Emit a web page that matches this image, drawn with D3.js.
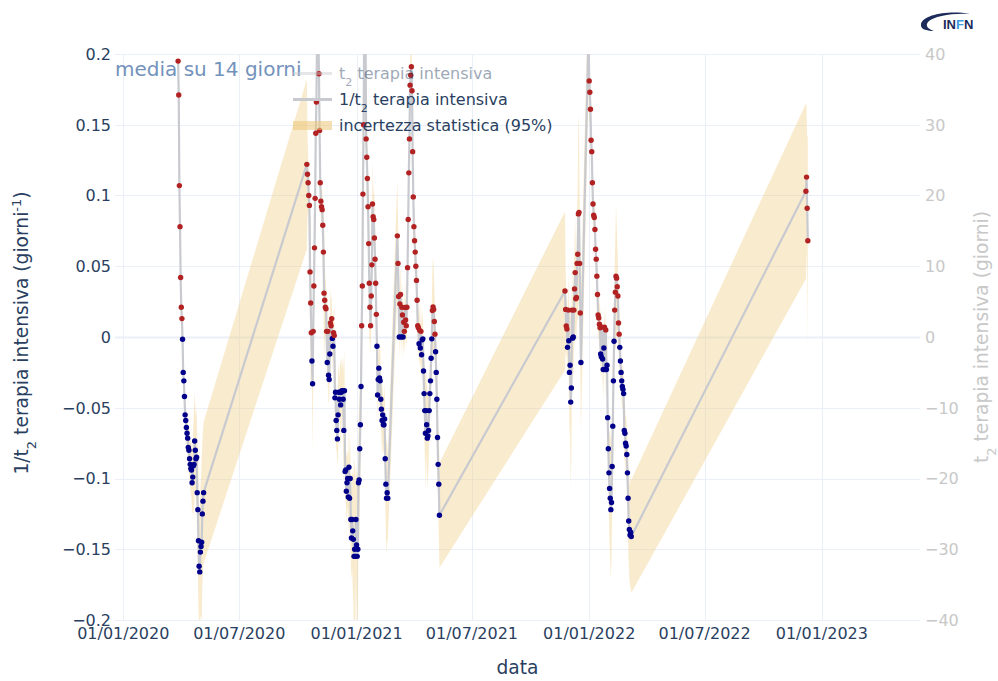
<!DOCTYPE html>
<html><head><meta charset="utf-8">
<script src="https://cdn.jsdelivr.net/npm/d3@7"></script>
<style>
body{margin:0;background:#fff}
svg{display:block;font-family:"DejaVu Sans",sans-serif}
</style>
</head><body>
<svg id="c" width="998" height="681"></svg>
<script>
// ---------- DATA ----------
const xTickDates = ["2020-01-01","2020-07-01","2021-01-01","2021-07-01","2022-01-01","2022-07-01","2023-01-01"];
const yTicks = [-0.2,-0.15,-0.1,-0.05,0,0.05,0.1,0.15,0.2];
const y2Ticks = [-40,-30,-20,-10,0,10,20,30,40];

const seg1Start = "2020-03-27";
const seg1Values = [0.195,0.171,0.107,0.078,0.042,0.021,0.013,-0.0016,-0.025,-0.031,
 -0.042,-0.055,-0.059,-0.064,-0.068,-0.0715,-0.078,-0.080,-0.086,-0.090,
 -0.093,-0.094,-0.103,-0.099,-0.091,-0.090,-0.0735,-0.080,-0.086,-0.085,
 -0.110,-0.122,-0.144,-0.162,-0.166,-0.152,-0.148,-0.145,-0.125,-0.116,-0.110];
const seg1Errors = [0.004,0.004,0.005,0.005,0.006,0.006,0.007,0.008,0.008,0.009,
 0.01,0.01,0.011,0.012,0.012,0.013,0.014,0.015,0.016,0.017,
 0.018,0.02,0.022,0.025,0.03,0.04,0.035,0.03,0.03,0.035,
 0.04,0.045,0.05,0.04,0.04,0.045,0.05,0.06,0.05,0.05,0.05];

const seg2Start = "2020-10-15";
const seg2Values = [0.122,0.115,0.109,0.100,0.093,0.046,0.024,0.003,-0.017,-0.033,
 0.004,0.036,0.063,0.098,0.144,0.166,0.21,0.24,0.22,0.186,
 0.146,0.109,0.096,0.092,0.090,0.079,0.060,0.031,0.026,0.021,
 0.020,0.004,-0.018,0.004,-0.027,-0.030,-0.012,0.010,0.008,0.013,
 -0.001,-0.0065,0.003,0.001,-0.043,-0.039,-0.059,-0.066,-0.072,-0.055,
 -0.039,-0.044,-0.039,-0.048,-0.039,-0.038,-0.038,-0.044,-0.066,-0.038,
 -0.095,-0.094,-0.109,-0.103,-0.100,-0.113,-0.092,-0.114,-0.100,-0.129,
 -0.142,-0.129,-0.137,-0.143,-0.155,-0.150,-0.155,-0.129,-0.147,-0.155,
 -0.150,-0.103,-0.101,-0.079,-0.062,-0.035,0.008,0.036,0.101,0.150,
 0.215,0.24,0.22,0.14,0.127,0.112,0.092,0.066,0.038,0.021,
 0.008,0.029,0.051,0.094,0.085,0.083,0.070,0.055,0.038,0.016,
 -0.0065,-0.041,-0.030,-0.022,-0.029,-0.031,-0.044,-0.051,-0.059,-0.055,
 -0.062,-0.062,-0.058,-0.086,-0.104,-0.114,-0.110,-0.114,
 null,null,null,null,null,null,null,null,null,null,null,null,null,null,
 0.0715,0.052,0.0286,0.000,0.0234,0.030,0.000,0.021,0.0156,0.000,
 0.0104,0.004,0.0208,0.012,0.008,0.021,0.049,0.083,0.116,0.140,
 0.178,0.185,0.191,0.174,0.131,0.099,0.078,0.068,0.060,0.050,
 0.040,0.026,0.008,0.0065,-0.0047,0.0047,-0.0078,0.004,-0.0125,-0.002,
 -0.0013,-0.024,-0.040,-0.052,-0.068,-0.052,-0.062,-0.0715,-0.070,-0.066,-0.052,-0.040,
 -0.031,-0.015,-0.0013,0.0187,0.0213,0.0195,0.011,0.002,-0.0104,-0.025,
 -0.044,-0.071,-0.090,-0.104,-0.126];
const seg2Errors = [0.06,0.03,0.02,0.015,0.02,0.04,0.06,0.03,0.02,0.05,
 0.03,0.02,0.015,0.015,0.015,0.015,0.02,0.02,0.02,0.015,
 0.015,0.012,0.012,0.012,0.015,0.02,0.03,0.05,0.03,0.02,
 0.02,0.02,0.02,0.03,0.02,0.015,0.02,0.025,0.02,0.015,
 0.015,0.02,0.015,0.02,0.02,0.025,0.02,0.015,0.02,0.03,
 0.02,0.015,0.02,0.03,0.025,0.015,0.02,0.03,0.04,0.03,
 0.02,0.02,0.025,0.02,0.02,0.025,0.03,0.03,0.03,0.03,
 0.03,0.035,0.04,0.045,0.07,0.06,0.05,0.04,0.05,0.06,
 0.045,0.04,0.05,0.04,0.035,0.03,0.03,0.04,0.06,0.08,
 0.06,0.05,0.04,0.03,0.03,0.025,0.025,0.03,0.04,0.025,
 0.02,0.02,0.025,0.03,0.02,0.02,0.03,0.025,0.02,0.02,
 0.02,0.02,0.015,0.02,0.02,0.025,0.02,0.02,0.025,0.02,
 0.02,0.02,0.025,0.03,0.035,0.04,0.035,0.03,
 null,null,null,null,null,null,null,null,null,null,null,null,null,null,
 0.04,0.03,0.02,0.015,0.02,0.02,0.015,0.02,0.015,0.015,
 0.015,0.015,0.02,0.015,0.015,0.02,0.02,0.02,0.02,0.02,
 0.02,0.015,0.015,0.015,0.015,0.015,0.015,0.02,0.015,0.015,
 0.015,0.02,0.02,0.015,0.015,0.02,0.015,0.02,0.02,0.015,
 0.02,0.02,0.025,0.03,0.04,0.03,0.03,0.035,0.03,0.025,0.02,0.02,
 0.02,0.02,0.025,0.03,0.035,0.03,0.025,0.02,0.02,0.02,
 0.025,0.03,0.03,0.035,0.037];

const seg3Start = "2021-11-24";
const seg3Values = [0.0325,0.0195,0.0078,0.0057,-0.0073,0.019,-0.0026,-0.025,-0.020,-0.046,
 -0.036,0.019,-0.0008,0.000,0.019,0.034,0.0455,0.027,0.028,0.052,
 0.0585,0.087,0.088,0.052,0.017,-0.018,
 null,null,null,null,null,null,null,null,null,null,null,
 0.215,
 0.181,0.173,0.161,0.139,0.131,0.109,0.094,0.086,0.0845,0.076,
 0.062,0.055,0.043,0.030,0.0156,0.0135,0.009,0.0065,-0.012,-0.014,
 0.007,-0.0156,-0.023,-0.0078,0.007,-0.023,0.005,-0.023,-0.020,-0.057,
 -0.079,-0.096,-0.107,-0.114,-0.122,-0.117,-0.0915,-0.063,-0.031,-0.003,
 0.019,0.0317,0.043,0.0416,0.0356,0.029,0.0099,0.002,-0.0073,-0.017,
 -0.025,-0.031,-0.035,-0.037,-0.040,-0.066,-0.068,-0.075,-0.077,-0.083,
 -0.096,-0.114,-0.130,-0.136,-0.140,-0.138,-0.141];
const seg3Errors = [0.056,0.03,0.02,0.02,0.02,0.025,0.03,0.04,0.05,0.06,
 0.05,0.04,0.03,0.03,0.03,0.035,0.04,0.03,0.03,0.035,
 0.05,0.07,0.06,0.04,0.04,0.05,
 null,null,null,null,null,null,null,null,null,null,null,
 0.04,
 0.03,0.02,0.015,0.015,0.015,0.015,0.015,0.012,0.012,0.012,
 0.012,0.012,0.012,0.015,0.015,0.015,0.015,0.015,0.015,0.015,
 0.015,0.015,0.02,0.015,0.015,0.02,0.015,0.02,0.02,0.02,
 0.025,0.03,0.04,0.045,0.05,0.04,0.03,0.025,0.02,0.02,
 0.03,0.04,0.05,0.04,0.03,0.025,0.02,0.02,0.015,0.015,
 0.015,0.015,0.015,0.015,0.015,0.02,0.02,0.02,0.02,0.02,
 0.025,0.03,0.03,0.035,0.035,0.04,0.04];

const seg4Start = "2022-12-07";
const seg4Values = [0.103,0.113,0.091,0.068];
const seg4Errors = [0.062,0.05,0.05,0.075];

// ---------- BUILD ----------
const parse = d3.utcParse("%Y-%m-%d");
const segments = [
  [seg1Start, seg1Values, seg1Errors],
  [seg2Start, seg2Values, seg2Errors],
  [seg3Start, seg3Values, seg3Errors],
  [seg4Start, seg4Values, seg4Errors]
];
const points = [];
segments.forEach(([s, vals, errs]) => {
  const t0 = parse(s).getTime();
  vals.forEach((v, i) => {
    if (v === null) return;
    points.push({date: new Date(t0 + i * 864e5), v: v, e: errs[i]});
  });
});

const svg = d3.select("#c");
const L = 115, R = 920, T = 54, B = 620;
const x = d3.scaleUtc().domain([parse("2019-12-19"), parse("2023-06-04")]).range([L, R]);
const y = d3.scaleLinear().domain([-0.2, 0.2]).range([B, T]);
const y2 = d3.scaleLinear().domain([-40, 40]).range([B, T]);

svg.append("rect").attr("width", 998).attr("height", 681).attr("fill", "#fff");

// grid
const grid = svg.append("g");
xTickDates.forEach(d => {
  const xx = Math.round(x(parse(d))) + 0.5;
  grid.append("line").attr("x1", xx).attr("x2", xx).attr("y1", T).attr("y2", B)
    .attr("stroke", "#EBF0F8").attr("stroke-width", 1);
});
yTicks.forEach(t => {
  const yy = Math.round(y(t)) + 0.5;
  grid.append("line").attr("x1", L).attr("x2", R).attr("y1", yy).attr("y2", yy)
    .attr("stroke", "#EBF0F8").attr("stroke-width", t === 0 ? 2 : 1);
});

// clip
svg.append("clipPath").attr("id", "clip").append("rect")
  .attr("x", L).attr("y", T).attr("width", R - L).attr("height", B - T);
const plot = svg.append("g").attr("clip-path", "url(#clip)");

// band
const area = d3.area().x(d => x(d.date)).y0(d => y(d.v - d.e)).y1(d => y(d.v + d.e));
plot.append("path").datum(points).attr("d", area)
  .attr("fill", "rgba(237,199,120,0.36)").attr("stroke", "none");

// line
const line = d3.line().x(d => x(d.date)).y(d => y(d.v));
plot.append("path").datum(points).attr("d", line)
  .attr("fill", "none").attr("stroke", "#c8cad0").attr("stroke-width", 2.2)
  .attr("stroke-linejoin", "round");

// dots
plot.selectAll("circle.pt").data(points).join("circle").attr("class", "pt")
  .attr("cx", d => x(d.date)).attr("cy", d => y(d.v)).attr("r", 2.7)
  .attr("fill", d => d.v > 0 ? "#b22222" : "#00008b");

// axis labels
const fmtY = t => t === 0 ? "0" : (t < 0 ? "\u2212" : "") + String(Math.abs(t));
const axTxt = svg.append("g").attr("font-size", 16);
yTicks.forEach(t => {
  axTxt.append("text").attr("x", 111).attr("y", y(t)).attr("dy", "0.36em")
    .attr("text-anchor", "end").attr("fill", "#2a3f5f").text(fmtY(t));
});
y2Ticks.forEach(t => {
  axTxt.append("text").attr("x", 925).attr("y", y2(t)).attr("dy", "0.36em")
    .attr("text-anchor", "start").attr("fill", "#c8c8c8")
    .text(t < 0 ? "\u2212" + Math.abs(t) : String(t));
});
const fmtX = d3.utcFormat("%d/%m/%Y");
xTickDates.forEach(d => {
  axTxt.append("text").attr("x", x(parse(d))).attr("y", 639)
    .attr("text-anchor", "middle").attr("fill", "#2a3f5f").text(fmtX(parse(d)));
});

// axis titles
svg.append("text").attr("x", (L + R) / 2).attr("y", 674).attr("text-anchor", "middle")
  .attr("font-size", 18.67).attr("fill", "#2a3f5f").text("data");

const lt = svg.append("text").attr("transform", "translate(28,333) rotate(-90)")
  .attr("text-anchor", "middle").attr("font-size", 18.67).attr("fill", "#2a3f5f");
lt.append("tspan").text("1/t");
lt.append("tspan").attr("baseline-shift", "sub").attr("font-size", 13).text("2");
lt.append("tspan").text(" terapia intensiva (giorni");
lt.append("tspan").attr("baseline-shift", "super").attr("font-size", 13).text("-1");
lt.append("tspan").text(")");

const rt = svg.append("text").attr("transform", "translate(988,337) rotate(-90)")
  .attr("text-anchor", "middle").attr("font-size", 18.67).attr("fill", "#c8c8c8");
rt.append("tspan").text("t");
rt.append("tspan").attr("baseline-shift", "sub").attr("font-size", 13).text("2");
rt.append("tspan").text(" terapia intensiva (giorni)");

// annotation
svg.append("text").attr("x", 115).attr("y", 76).attr("font-size", 20)
  .attr("fill", "#7392bb").text("media su 14 giorni");

// legend
const lg = svg.append("g").attr("font-size", 16);
const r1 = lg.append("g").attr("opacity", 0.45);
r1.append("line").attr("x1", 293).attr("x2", 332).attr("y1", 73.5).attr("y2", 73.5)
  .attr("stroke", "#c8cad0").attr("stroke-width", 3);
const t1 = r1.append("text").attr("x", 339).attr("y", 79).attr("fill", "#2a3f5f");
t1.append("tspan").text("t");
t1.append("tspan").attr("baseline-shift", "sub").attr("font-size", 11).text("2");
t1.append("tspan").text(" terapia intensiva");

lg.append("line").attr("x1", 293).attr("x2", 332).attr("y1", 99.5).attr("y2", 99.5)
  .attr("stroke", "#c8cad0").attr("stroke-width", 3);
const t2 = lg.append("text").attr("x", 339).attr("y", 105).attr("fill", "#2a3f5f");
t2.append("tspan").text("1/t");
t2.append("tspan").attr("baseline-shift", "sub").attr("font-size", 11).text("2");
t2.append("tspan").text(" terapia intensiva");

lg.append("rect").attr("x", 293).attr("y", 121).attr("width", 39).attr("height", 9)
  .attr("fill", "rgba(237,199,120,0.55)");
lg.append("text").attr("x", 339).attr("y", 131).attr("fill", "#2a3f5f")
  .text("incertezza statistica (95%)");

// logo
const logo = svg.append("g");
logo.append("path")
  .attr("d", "M970,14 C948,10 923,15 921,24 C920,29 926,31 934,31 C928,29 925,26 928,22 C934,16 952,13 970,14 Z")
  .attr("fill", "#1c2b5a");
const lt2 = logo.append("text").attr("x", 943).attr("y", 29)
  .attr("font-family", "'Liberation Sans', Arial, sans-serif").attr("font-weight", "bold")
  .attr("font-size", 13).attr("fill", "#1c2b5a");
lt2.append("tspan").text("IN");
lt2.append("tspan").attr("fill", "#3d9be0").text("F");
lt2.append("tspan").text("N");
</script>
</body></html>
